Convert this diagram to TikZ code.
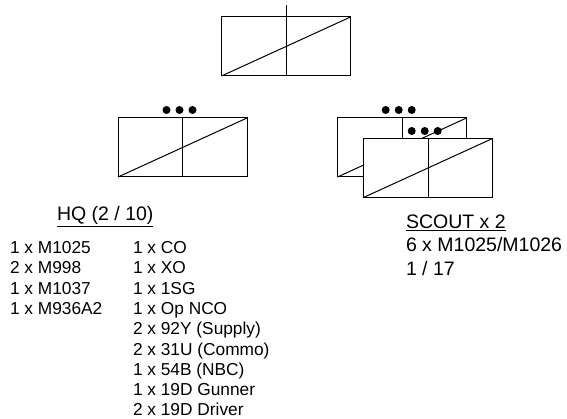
\documentclass[tikz,border=0pt]{standalone}
\usepackage{fontspec}
\setmainfont{Liberation Sans}
\tikzset{
  x=1pt,y=-1pt,
  unitbox/.style={draw=black,fill=white,line width=1pt,minimum width=129pt,minimum height=59pt,inner sep=0pt,outer sep=0pt},
  pip/.style={circle,fill=black,draw=none,minimum size=8pt,inner sep=0pt},
  lbl/.style={anchor=base west,inner sep=0pt,outer sep=0pt,font=\fontsize{17.3}{20}\selectfont},
  big/.style={anchor=base west,inner sep=0pt,outer sep=0pt,font=\fontsize{19.5}{23}\selectfont},
  mark line/.style={draw=black,line width=1pt}
}
\newcommand{\unitsym}[3]{%
  \node[unitbox] (#1) at (#2,#3) {};
  \draw[mark line] (#1.south west) -- (#1.north east);
  \draw[mark line] (#1.north) -- (#1.south);
}
\begin{document}
\begin{tikzpicture}
\useasboundingbox (0,0) rectangle (567,419);
\unitsym{top}{286}{46.5}
\coordinate (stem) at (286,5);
\draw[mark line] (stem) -- (top.north);
\unitsym{hq}{182.5}{147.5}
\foreach \n/\x in {a/166.5,b/179.5,c/192.5}{\node[pip] (hq\n) at (\x,110) {};}
\unitsym{back}{402}{147.5}
\foreach \n/\x in {a/385.7,b/398.7,c/411.7}{\node[pip] (bk\n) at (\x,110) {};}
\foreach \n/\x in {a/411.7,b/424.7,c/437.7}{\node[pip] (fr\n) at (\x,131) {};}
\unitsym{front}{428}{168}
\node[big] (hqt) at (57,221) {\underline{HQ (2 / 10)}};
\foreach \t [count=\i from 0] in {1 x M1025,2 x M998,1 x M1037,1 x M936A2}
  {\node[lbl] (v\i) at (10,{253.5+20.3*\i}) {\t};}
\foreach \t [count=\i from 0] in {1 x CO,1 x XO,1 x 1SG,1 x Op NCO,2 x 92Y (Supply),2 x 31U (Commo),1 x 54B (NBC),1 x 19D Gunner,2 x 19D Driver}
  {\node[lbl] (p\i) at (133,{253.5+20.3*\i}) {\t};}
\node[big] (s1) at (406,229) {\underline{SCOUT x 2}};
\node[big] (s2) at (406,252) {6 x M1025/M1026};
\node[big] (s3) at (406,276) {1 / 17};
\end{tikzpicture}
\end{document}
